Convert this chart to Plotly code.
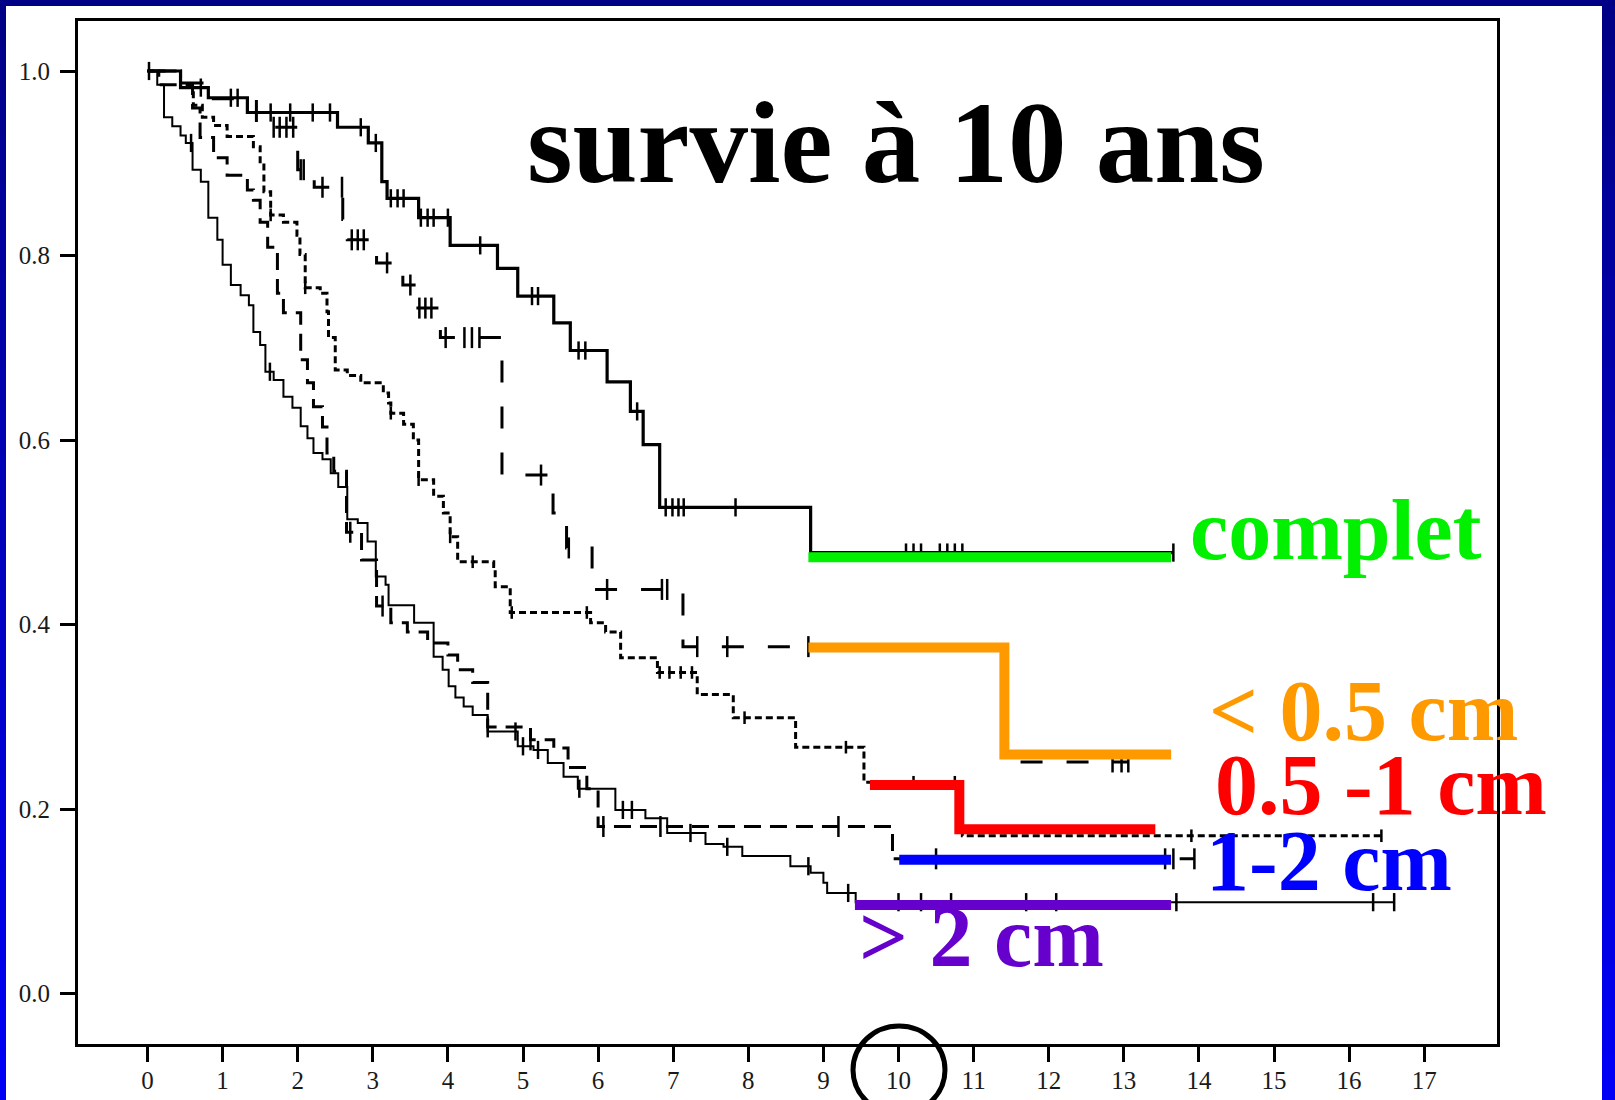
import plotly.graph_objects as go

# ---------------- data ----------------
# Kaplan-Meier step times (years) and survival after each step
complet_t = [0.44, 0.81, 1.33, 2.53, 2.94, 3.12, 3.19, 3.61, 4.03, 4.66, 4.93, 5.41, 5.63, 6.12, 6.43, 6.60, 6.82, 8.83]
complet_s = [0.982, 0.971, 0.955, 0.939, 0.922, 0.880, 0.862, 0.841, 0.811, 0.786, 0.756, 0.727, 0.697, 0.663, 0.631, 0.595, 0.527, 0.478]
complet_end = 13.66
complet_cens = [0.02, 0.71, 1.11, 1.20, 1.64, 1.90, 2.20, 2.43, 2.84, 3.04, 3.24, 3.33, 3.41, 3.64, 3.73, 3.81,
                4.00, 4.43, 5.12, 5.20, 5.74, 5.83, 6.52, 6.90, 6.99, 7.07, 7.14, 7.83,
                10.10, 10.20, 10.30, 10.55, 10.65, 10.75, 10.85, 13.66]

lt05_t = [0.30, 0.80, 1.45, 2.00, 2.22, 2.60, 2.66, 3.05, 3.40, 3.55, 3.90, 4.72, 5.40, 5.58, 5.92, 7.13, 11.40]
lt05_s = [0.987, 0.970, 0.939, 0.893, 0.874, 0.839, 0.817, 0.792, 0.768, 0.743, 0.711, 0.562, 0.521, 0.483, 0.438, 0.376, 0.251]
lt05_end = 13.06
lt05_cens = [1.68, 1.76, 1.85, 1.94, 2.04, 2.08, 2.33, 2.59, 2.72, 2.80, 2.88, 3.19, 3.50, 3.62, 3.70, 3.78,
             3.97, 4.22, 4.32, 4.42, 5.24, 5.61, 6.12, 6.85, 6.92, 7.32, 7.72, 8.80, 12.85, 12.97, 13.06]

p05_t = [0.44, 0.61, 0.73, 0.88, 1.06, 1.41, 1.50, 1.55, 1.64, 1.81, 1.99, 2.03, 2.10, 2.30, 2.39, 2.41, 2.50,
         2.66, 2.84, 3.14, 3.21, 3.24, 3.41, 3.54, 3.61, 3.81, 3.94, 4.03, 4.13, 4.61, 4.63, 4.83, 5.90, 6.10,
         6.30, 6.79, 7.32, 7.80, 8.63, 9.54, 10.85]
p05_s = [0.982, 0.963, 0.950, 0.941, 0.929, 0.918, 0.898, 0.869, 0.844, 0.836, 0.822, 0.801, 0.765, 0.759, 0.739,
         0.711, 0.676, 0.670, 0.662, 0.651, 0.640, 0.629, 0.617, 0.600, 0.557, 0.539, 0.521, 0.495, 0.468, 0.463,
         0.441, 0.413, 0.402, 0.392, 0.364, 0.348, 0.324, 0.299, 0.267, 0.229, 0.171]
p05_end = 16.43
p05_cens = [1.64, 2.10, 3.24, 3.61, 4.03, 4.33, 4.85, 5.85, 6.82, 6.95, 7.10, 7.25, 7.95, 9.30, 10.20, 10.75, 13.90, 16.43]

p12_t = [0.15, 0.60, 0.70, 0.88, 1.06, 1.33, 1.41, 1.50, 1.60, 1.73, 1.81, 2.04, 2.13, 2.21, 2.33, 2.39, 2.48,
         2.65, 2.85, 3.05, 3.24, 3.46, 3.73, 4.00, 4.13, 4.33, 4.53, 5.10, 5.41, 5.60, 5.85, 6.00, 9.92]
p12_s = [0.985, 0.960, 0.928, 0.906, 0.887, 0.871, 0.860, 0.836, 0.809, 0.759, 0.738, 0.687, 0.662, 0.636, 0.614,
         0.586, 0.566, 0.500, 0.470, 0.420, 0.402, 0.392, 0.380, 0.367, 0.351, 0.337, 0.289, 0.275, 0.266, 0.245,
         0.222, 0.181, 0.146]
p12_end = 13.94
p12_cens = [2.70, 3.13, 4.53, 5.10, 6.07, 6.83, 9.20, 10.50, 13.55, 13.66, 13.94]

gt2_t = [0.13, 0.22, 0.33, 0.44, 0.51, 0.60, 0.71, 0.81, 0.93, 1.00, 1.11, 1.24, 1.35, 1.41, 1.50, 1.57, 1.68,
         1.81, 1.93, 2.04, 2.13, 2.21, 2.33, 2.44, 2.54, 2.66, 2.80, 2.93, 3.04, 3.17, 3.21, 3.55, 3.81, 3.93,
         4.01, 4.10, 4.21, 4.33, 4.53, 4.93, 5.14, 5.33, 5.54, 5.73, 6.23, 6.63, 6.92, 7.43, 7.67, 7.92, 8.56,
         8.83, 9.00, 9.05, 9.43]
gt2_s = [0.985, 0.950, 0.940, 0.930, 0.922, 0.893, 0.880, 0.841, 0.817, 0.790, 0.768, 0.757, 0.746, 0.717, 0.703,
         0.674, 0.665, 0.647, 0.635, 0.615, 0.602, 0.586, 0.579, 0.564, 0.549, 0.514, 0.510, 0.490, 0.452, 0.443,
         0.421, 0.402, 0.365, 0.351, 0.333, 0.321, 0.311, 0.302, 0.284, 0.268, 0.264, 0.250, 0.235, 0.222, 0.199,
         0.190, 0.174, 0.162, 0.159, 0.149, 0.138, 0.131, 0.120, 0.109, 0.099]
gt2_end = 16.60
gt2_cens = [0.58, 1.63, 4.90, 5.00, 5.20, 5.75, 6.33, 6.45, 7.23, 7.72, 8.80, 9.33, 10.0, 10.3, 10.7, 11.7,
            12.1, 13.70, 16.32, 16.60]

# coloured highlight steps drawn over the curves
hl_green_x = [8.80, 13.63]
hl_green_y = [0.473, 0.473]
hl_orange_x = [8.80, 11.41, 13.63]
hl_orange_y = [0.375, 0.259, 0.259]
hl_red_x = [9.62, 10.81, 13.42]
hl_red_y = [0.226, 0.178, 0.178]
hl_blue_x = [10.01, 13.63]
hl_blue_y = [0.145, 0.145]
hl_purple_x = [9.42, 13.63]
hl_purple_y = [0.096, 0.096]

x_ticks = list(range(0, 18))
y_ticks = [0.0, 0.2, 0.4, 0.6, 0.8, 1.0]
y_ticktext = ["0.0", "0.2", "0.4", "0.6", "0.8", "1.0"]

title_text = "survie à 10 ans"
labels = ["complet", "< 0.5 cm", "0.5 -1 cm", "1-2 cm", "> 2 cm"]
label_colors = ["#00F000", "#FF9900", "#FF0000", "#0000FF", "#6600CC"]

# ---------------- layout geometry ----------------
W, H = 1615, 1100
L, R, T, B = 78, 1497, 21, 1044       # plot frame in pixels
X0PX, XPX = 147.5, 75.1                # pixel of x=0, pixels per year
Y0PX, YPX = 993.5, 922.5               # pixel of y=0, pixels per unit
xr = [(L - X0PX) / XPX, (R - X0PX) / XPX]
yr = [(Y0PX - B) / YPX, (Y0PX - T) / YPX]


def ppx(x):
    return (x - L) / (R - L)


def ppy(y):
    return (B - y) / (B - T)


def surv(times, vals, t):
    s = 1.0
    for ti, vi in zip(times, vals):
        if ti <= t:
            s = vi
    return s


fig = go.Figure()


def add_km(times, vals, end, cens, dash, width, msize):
    fig.add_trace(go.Scatter(
        x=[0.0] + times + [end], y=[1.0] + vals + [vals[-1]], mode="lines",
        line=dict(shape="hv", color="black", width=width, dash=dash),
        hoverinfo="skip", showlegend=False))
    fig.add_trace(go.Scatter(
        x=cens, y=[surv(times, vals, c) for c in cens], mode="markers",
        marker=dict(symbol="line-ns", size=msize, color="black",
                    line=dict(width=2.5, color="black")),
        hoverinfo="skip", showlegend=False))


add_km(gt2_t, gt2_s, gt2_end, gt2_cens, "solid", 2, 13)
add_km(p12_t, p12_s, p12_end, p12_cens, "17px,9px", 3, 15)
add_km(p05_t, p05_s, p05_end, p05_cens, "7px,4px", 3, 9)
add_km(lt05_t, lt05_s, lt05_end, lt05_cens, "22px,24px", 3, 15)
add_km(complet_t, complet_s, complet_end, complet_cens, "solid", 3.2, 13)

for hx, hy, col in [(hl_green_x, hl_green_y, label_colors[0]),
                    (hl_orange_x, hl_orange_y, label_colors[1]),
                    (hl_red_x, hl_red_y, label_colors[2]),
                    (hl_blue_x, hl_blue_y, label_colors[3]),
                    (hl_purple_x, hl_purple_y, label_colors[4])]:
    fig.add_trace(go.Scatter(x=hx, y=hy, mode="lines",
                             line=dict(shape="hv", color=col, width=10),
                             hoverinfo="skip", showlegend=False))

serif = "Liberation Serif, Times New Roman, serif"

annotations = [
    dict(text=title_text, x=ppx(896), y=ppy(142), xanchor="center", yanchor="middle",
         font=dict(family=serif, size=117, color="black", weight=700)),
]
label_pos = [(1188, 530), (1207, 711), (1213, 785), (1204, 861), (857, 937)]
for txt, col, (lx, ly) in zip(labels, label_colors, label_pos):
    annotations.append(dict(text=txt, x=ppx(lx), y=ppy(ly), xanchor="left", yanchor="middle",
                            font=dict(family=serif, size=86, color=col, weight=700)))
for a in annotations:
    a.update(xref="paper", yref="paper", showarrow=False)

shapes = []
# blue slide frame (gradient approximated by bands)
nb = 24
for i in range(nb):
    f = i / (nb - 1)
    col = "rgb(0,0,%d)" % int(135 + f * 110)
    y0p = i * H / nb
    y1p = (i + 1) * H / nb + 1
    shapes.append(dict(type="rect", xref="paper", yref="paper", x0=ppx(0), x1=ppx(6),
                       y0=ppy(y1p), y1=ppy(y0p), fillcolor=col, line=dict(width=0), layer="above"))
    shapes.append(dict(type="rect", xref="paper", yref="paper", x0=ppx(1602), x1=ppx(W),
                       y0=ppy(y1p), y1=ppy(y0p), fillcolor=col, line=dict(width=0), layer="above"))
shapes.append(dict(type="rect", xref="paper", yref="paper", x0=ppx(0), x1=ppx(W),
                   y0=ppy(6), y1=ppy(0), fillcolor="rgb(0,0,135)", line=dict(width=0), layer="above"))
# circle around the 10-year tick label
shapes.append(dict(type="circle", xref="paper", yref="paper", x0=ppx(853), x1=ppx(945),
                   y0=ppy(1114), y1=ppy(1026), line=dict(color="black", width=5), layer="above"))

axis_common = dict(showline=True, linecolor="black", linewidth=3, mirror=True, showgrid=False,
                   zeroline=False, ticks="outside", ticklen=15, tickwidth=2.5, tickcolor="black",
                   tickfont=dict(family=serif, size=25, color="#1a1a1a"), fixedrange=True,
                   automargin=False)

fig.update_layout(
    width=W, height=H, autosize=False,
    margin=dict(l=L, r=W - R, t=T, b=H - B, pad=0, autoexpand=False),
    paper_bgcolor="white", plot_bgcolor="white",
    xaxis=dict(range=xr, tickvals=x_ticks, ticktext=[str(v) for v in x_ticks],
               ticklabelstandoff=-3, **axis_common),
    yaxis=dict(range=yr, tickvals=y_ticks, ticktext=y_ticktext, ticklabelstandoff=5, **axis_common),
    annotations=annotations, shapes=shapes, showlegend=False,
)

fig.write_html(
    "out.html",
    config={"displayModeBar": False},
    post_script="document.body.style.margin='0px';document.body.style.padding='0px';"
                "document.body.style.overflow='hidden';",
)
